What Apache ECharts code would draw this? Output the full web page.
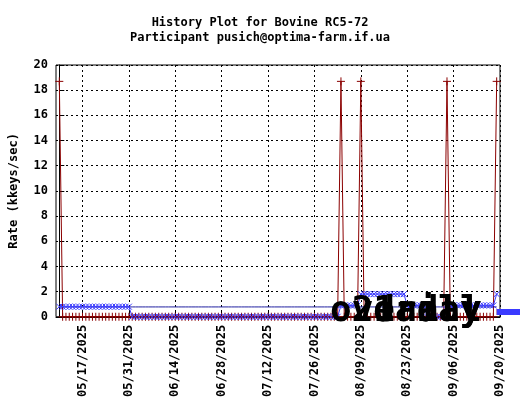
<!DOCTYPE html>
<html><head><meta charset="utf-8">
<script src="https://cdn.jsdelivr.net/npm/echarts@6/dist/echarts.min.js"></script>
<style>html,body{margin:0;padding:0;background:#fff}#main{width:520px;height:400px}</style>
</head><body><div id="main"></div>
<script>
// day 0 = 05/10/2025
var dayLabels = ['05/17/2025','05/31/2025','06/14/2025','06/28/2025','07/12/2025','07/26/2025','08/09/2025','08/23/2025','09/06/2025','09/20/2025'];
var tickDays = [7, 21, 35, 49, 63, 77, 91, 105, 119, 133];
var daily = [
 18.7,0,0,0,0,0,0,0,0,0, 0,0,0,0,0,0,0,0,0,0, 0,0,0,0,0,0,0,0,0,0,
 0,0,0,0,0,0,0,0,0,0, 0,0,0,0,0,0,0,0,0,0, 0,0,0,0,0,0,0,0,0,0,
 0,0,0,0,0,0,0,0,0,0, 0,0,0,0,0,0,0,0,0,0, 0,0,0,0,0,18.7,0,0,0,0,
 0,18.7,0,0,0,0,0,0,0,0, 0,0,0,0,0,0,0,0,0,0, 0,0,0,0,0,0,0,18.7,0,0,
 0,0,0,0,0,0,0,0,0,0, 0,0,18.7
];
var avg21 = [
 0.8,0.8,0.8,0.8,0.8,0.8,0.8,0.8,0.8,0.8, 0.8,0.8,0.8,0.8,0.8,0.8,0.8,0.8,0.8,0.8, 0.8,0.8,0,0,0,0,0,0,0,0,
 0,0,0,0,0,0,0,0,0,0, 0,0,0,0,0,0,0,0,0,0, 0,0,0,0,0,0,0,0,0,0,
 0,0,0,0,0,0,0,0,0,0, 0,0,0,0,0,0,0,0,0,0, 0,0,0,0,0,0.9,0.9,0.9,0.9,0.9,
 0.9,1.8,1.8,1.8,1.8,1.8,1.8,1.8,1.8,1.8, 1.8,1.8,1.8,1.8,1.8,0.9,0.9,0.9,0.9,0.9, 0.9,0,0,0,0,0,0,0.9,0.9,0.9,
 0.9,0.9,0.9,0.9,0.9,0.9,0.9,0.9,0.9,0.9, 0.9,0.9,1.8
];
var overall = 0.78;

function pts(arr){ return arr.map(function(v,i){ return [i, v]; }); }
var font = 'DejaVu Sans Mono';
var plus = 'path://M0,5L10,5M5,0L5,10';
var cross = 'path://M0,0L10,10M10,0L0,10';

var myChart = echarts.init(document.getElementById('main'));
var option = {
  animation: false,
  title: {
    text: 'History Plot for Bovine RC5-72\nParticipant pusich@optima-farm.if.ua',
    left: 'center', top: 10,
    textStyle: {fontFamily: font, fontSize: 12, fontWeight: 'bold', color: '#000', lineHeight: 15}
  },
  legend: {
    orient: 'vertical', left: 56, top: 67, align: 'right', itemGap: 1,
    itemWidth: 34, itemHeight: 12,
    textStyle: {fontFamily: font, fontSize: 12, fontWeight: 'bold', color: '#000'},
    data: ['daily', {name: 'overall', icon: 'path://M0,5L10,5'}, '21 day']
  },
  grid: {left: 54, right: 20, top: 65, bottom: 78, show: true, borderColor: '#000', borderWidth: 1},
  xAxis: {
    type: 'value', min: -1, max: 133,
    axisLine: {lineStyle: {color: '#000'}},
    axisTick: {customValues: tickDays, inside: true, length: 5, lineStyle: {color: '#000'}},
    splitLine: {show: true, lineStyle: {color: '#000', type: [2, 3]}},
    axisLabel: {
      customValues: tickDays, rotate: 90, color: '#000',
      fontFamily: font, fontSize: 12, fontWeight: 'bold',
      formatter: function(v){ return dayLabels[tickDays.indexOf(v)] || ''; }
    }
  },
  yAxis: {
    type: 'value', min: 0, max: 20, interval: 2,
    name: 'Rate (kkeys/sec)', nameLocation: 'middle', nameGap: 36,
    nameTextStyle: {fontFamily: font, fontSize: 12, fontWeight: 'bold', color: '#000'},
    axisLine: {show: true, lineStyle: {color: '#000'}},
    axisTick: {inside: true, length: 5, lineStyle: {color: '#000'}},
    splitLine: {show: true, lineStyle: {color: '#000', type: [2, 3]}},
    axisLabel: {color: '#000', fontFamily: font, fontSize: 12, fontWeight: 'bold'}
  },
  series: [
    {name: 'daily', type: 'line', data: pts(daily), symbol: plus, symbolSize: 8,
     showAllSymbol: true,
     lineStyle: {color: '#8b0000', width: 1},
     itemStyle: {color: 'none', borderColor: '#8b0000', borderWidth: 1}},
    {name: 'overall', type: 'line', data: pts(daily.map(function(){ return overall; })),
     showSymbol: false, symbol: 'none',
     lineStyle: {color: '#2020a0', width: 1},
     itemStyle: {color: 'none', borderColor: '#2020a0', borderWidth: 1}},
    {name: '21 day', type: 'line', data: pts(avg21), symbol: cross, symbolSize: 6,
     showAllSymbol: true,
     lineStyle: {color: '#3a3aff', width: 1},
     itemStyle: {color: 'none', borderColor: '#3a3aff', borderWidth: 1}}
  ]
};
myChart.setOption(option);
</script>
</body></html>
